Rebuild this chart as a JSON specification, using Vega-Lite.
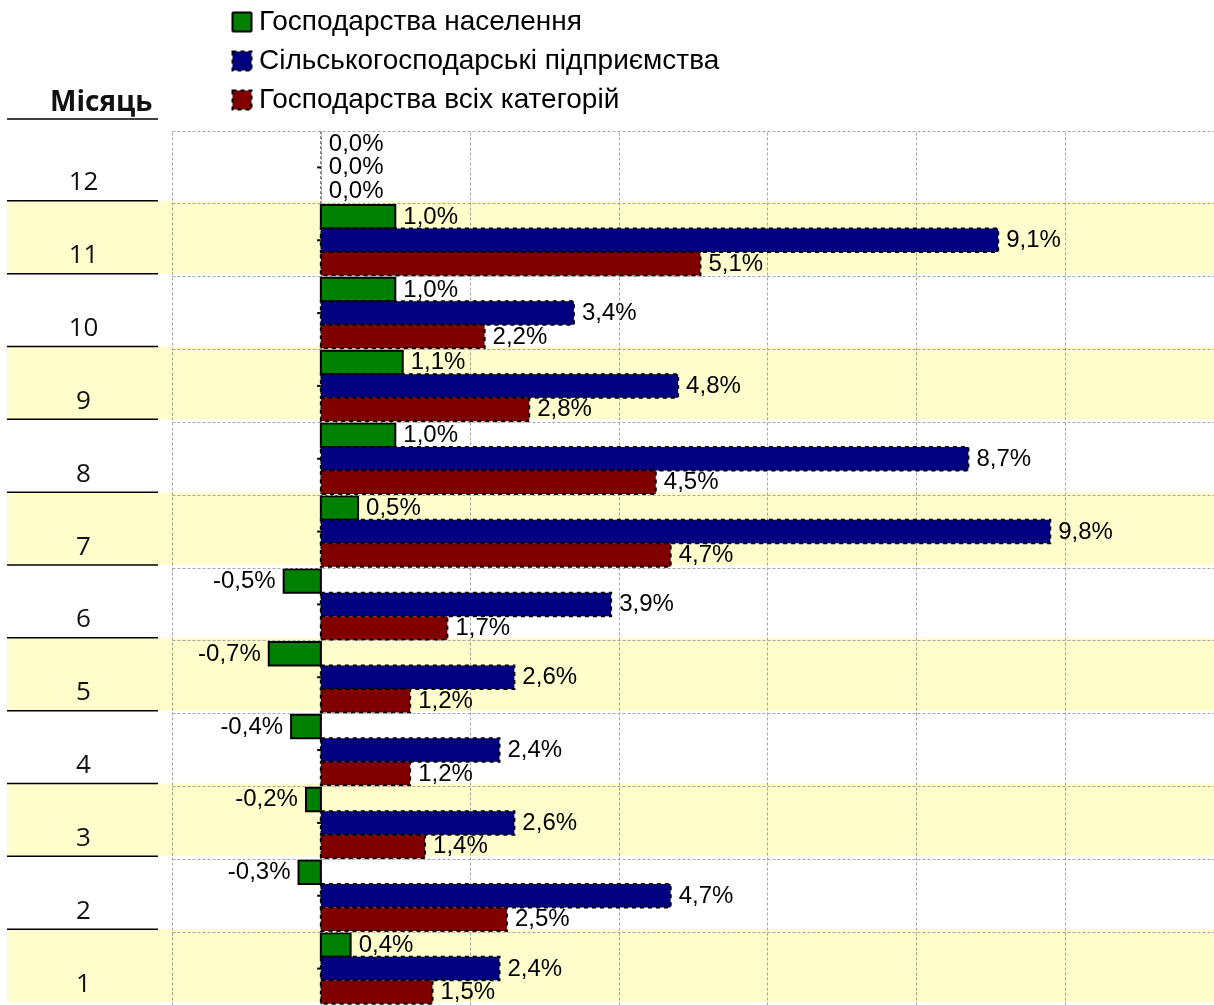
{
  "$schema": "https://vega.github.io/schema/vega-lite/v6.json",
  "width": 1042,
  "height": 874,
  "autosize": {"type": "none"},
  "padding": {"left": 172, "top": 131, "right": 0, "bottom": 0},
  "background": "white",
  "config": {
    "view": {"stroke": null},
    "locale": {"number": {"decimal": ",", "thousands": " ", "grouping": [3], "currency": ["", ""], "minus": "-"}}
  },
  "datasets": {
    "bars": [
      {"month": 12, "series": "Господарства населення", "v": 0.0},
      {"month": 12, "series": "Сільськогосподарські підприємства", "v": 0.0},
      {"month": 12, "series": "Господарства всіх категорій", "v": 0.0},
      {"month": 11, "series": "Господарства населення", "v": 0.010},
      {"month": 11, "series": "Сільськогосподарські підприємства", "v": 0.091},
      {"month": 11, "series": "Господарства всіх категорій", "v": 0.051},
      {"month": 10, "series": "Господарства населення", "v": 0.010},
      {"month": 10, "series": "Сільськогосподарські підприємства", "v": 0.034},
      {"month": 10, "series": "Господарства всіх категорій", "v": 0.022},
      {"month": 9, "series": "Господарства населення", "v": 0.011},
      {"month": 9, "series": "Сільськогосподарські підприємства", "v": 0.048},
      {"month": 9, "series": "Господарства всіх категорій", "v": 0.028},
      {"month": 8, "series": "Господарства населення", "v": 0.010},
      {"month": 8, "series": "Сільськогосподарські підприємства", "v": 0.087},
      {"month": 8, "series": "Господарства всіх категорій", "v": 0.045},
      {"month": 7, "series": "Господарства населення", "v": 0.005},
      {"month": 7, "series": "Сільськогосподарські підприємства", "v": 0.098},
      {"month": 7, "series": "Господарства всіх категорій", "v": 0.047},
      {"month": 6, "series": "Господарства населення", "v": -0.005},
      {"month": 6, "series": "Сільськогосподарські підприємства", "v": 0.039},
      {"month": 6, "series": "Господарства всіх категорій", "v": 0.017},
      {"month": 5, "series": "Господарства населення", "v": -0.007},
      {"month": 5, "series": "Сільськогосподарські підприємства", "v": 0.026},
      {"month": 5, "series": "Господарства всіх категорій", "v": 0.012},
      {"month": 4, "series": "Господарства населення", "v": -0.004},
      {"month": 4, "series": "Сільськогосподарські підприємства", "v": 0.024},
      {"month": 4, "series": "Господарства всіх категорій", "v": 0.012},
      {"month": 3, "series": "Господарства населення", "v": -0.002},
      {"month": 3, "series": "Сільськогосподарські підприємства", "v": 0.026},
      {"month": 3, "series": "Господарства всіх категорій", "v": 0.014},
      {"month": 2, "series": "Господарства населення", "v": -0.003},
      {"month": 2, "series": "Сільськогосподарські підприємства", "v": 0.047},
      {"month": 2, "series": "Господарства всіх категорій", "v": 0.025},
      {"month": 1, "series": "Господарства населення", "v": 0.004},
      {"month": 1, "series": "Сільськогосподарські підприємства", "v": 0.024},
      {"month": 1, "series": "Господарства всіх категорій", "v": 0.015}
    ],
    "rows": [
      {"month": 12}, {"month": 11}, {"month": 10}, {"month": 9}, {"month": 8}, {"month": 7},
      {"month": 6}, {"month": 5}, {"month": 4}, {"month": 3}, {"month": 2}, {"month": 1}
    ]
  },
  "layer": [
    {
      "data": {"name": "rows"},
      "transform": [{"filter": "datum.month % 2 == 1"}],
      "mark": {"type": "rect", "fill": "#fffdcc", "blend": "multiply", "yOffset": -3, "y2Offset": -3},
      "encoding": {
        "y": {"field": "month", "type": "ordinal", "sort": "descending"},
        "x": {"datum": -0.04217, "type": "quantitative"},
        "x2": {"datum": 0.12}
      }
    },
    {
      "data": {"name": "rows"},
      "transform": [{"filter": "datum.month != 12"}],
      "mark": {"type": "rule", "color": "#000000", "strokeWidth": 1.5, "yOffset": -3},
      "encoding": {
        "y": {"field": "month", "type": "ordinal", "sort": "descending", "bandPosition": 0},
        "x": {"datum": -0.04217, "type": "quantitative"},
        "x2": {"datum": -0.02188}
      }
    },
    {
      "data": {"name": "rows"},
      "transform": [{"filter": "datum.month == 12"}],
      "mark": {"type": "rule", "color": "#000000", "strokeWidth": 1.5, "yOffset": -12},
      "encoding": {
        "y": {"field": "month", "type": "ordinal", "sort": "descending", "bandPosition": 0},
        "x": {"datum": -0.04217, "type": "quantitative"},
        "x2": {"datum": -0.02188}
      }
    },
    {
      "data": {"values": [{}]},
      "mark": {"type": "rule", "color": "#404040", "strokeDash": [3, 2], "strokeWidth": 1},
      "encoding": {"x": {"datum": 0, "type": "quantitative"}}
    },
    {
      "data": {"name": "rows"},
      "mark": {"type": "rule", "color": "#000000", "strokeWidth": 2},
      "encoding": {
        "y": {"field": "month", "type": "ordinal", "sort": "descending"},
        "x": {"datum": -0.0005, "type": "quantitative"},
        "x2": {"datum": 0}
      }
    },
    {
      "data": {"name": "bars"},
      "transform": [{"filter": "datum.v != 0"}],
      "mark": {"type": "bar", "stroke": "#000000", "strokeWidth": 2},
      "encoding": {
        "y": {
          "field": "month", "type": "ordinal", "sort": "descending",
          "scale": {"paddingInner": 0, "paddingOuter": 0},
          "axis": {
            "bandPosition": 0, "grid": true, "gridDash": [3, 2], "gridColor": "#a6a6a6", "gridWidth": 1,
            "ticks": false, "domain": false,
            "labelAlign": "center", "labelBaseline": "alphabetic", "labelPadding": 89, "labelOffset": 23,
            "labelFont": "Open Sans", "labelFontSize": 26, "labelColor": "#111111", "labelOverlap": false, "labelFlush": false,
            "title": "Місяць", "titleAngle": 0, "titleAlign": "right", "titleBaseline": "alphabetic",
            "titleX": -20, "titleY": -21, "titleFont": "Open Sans", "titleFontSize": 28, "titleFontWeight": "bold", "titleColor": "#111111"
          }
        },
        "yOffset": {
          "field": "series", "type": "nominal",
          "sort": ["Господарства населення", "Сільськогосподарські підприємства", "Господарства всіх категорій"],
          "scale": {"paddingInner": 0, "paddingOuter": 0.05}
        },
        "x": {
          "field": "v", "type": "quantitative",
          "scale": {"domain": [-0.02, 0.12], "nice": false, "zero": false},
          "axis": {
            "labels": false, "ticks": false, "domain": false, "title": null,
            "grid": true, "gridDash": [3, 2], "gridColor": "#a6a6a6", "gridWidth": 1,
            "values": [-0.02, 0, 0.02, 0.04, 0.06, 0.08, 0.10]
          }
        },
        "color": {
          "field": "series", "type": "nominal",
          "scale": {
            "domain": ["Господарства населення", "Сільськогосподарські підприємства", "Господарства всіх категорій"],
            "range": ["#008000", "#000080", "#800000"]
          },
          "legend": {
            "orient": "none", "legendX": 56, "legendY": -123, "title": null, "padding": 0,
            "symbolType": "square", "symbolSize": 361, "symbolStrokeColor": "#000000", "symbolStrokeWidth": 2,
            "labelFont": "Liberation Sans", "labelFontSize": 28, "labelColor": "#000000", "labelLimit": 1000,
            "labelOffset": 3, "rowPadding": 11,
            "encode": {"symbols": {"update": {"stroke": {"value": "#000000"}, "strokeWidth": {"value": 2}}}}
          }
        },
        "strokeDash": {
          "field": "series", "type": "nominal",
          "scale": {
            "domain": ["Господарства населення", "Сільськогосподарські підприємства", "Господарства всіх категорій"],
            "range": [[1, 0], [4, 4], [4, 4]]
          },
          "legend": {
            "orient": "none", "legendX": 56, "legendY": -123, "title": null, "padding": 0,
            "symbolType": "square", "symbolSize": 361, "symbolStrokeColor": "#000000", "symbolStrokeWidth": 2,
            "labelFont": "Liberation Sans", "labelFontSize": 28, "labelColor": "#000000", "labelLimit": 1000,
            "labelOffset": 3, "rowPadding": 11,
            "encode": {"symbols": {"update": {"stroke": {"value": "#000000"}, "strokeWidth": {"value": 2}}}}
          }
        }
      }
    },
    {
      "data": {"name": "bars"},
      "transform": [{"filter": "datum.v >= 0"}],
      "mark": {"type": "text", "align": "left", "baseline": "middle", "dx": 8, "font": "Liberation Sans", "fontSize": 24, "color": "#000000"},
      "encoding": {
        "y": {"field": "month", "type": "ordinal", "sort": "descending"},
        "yOffset": {
          "field": "series", "type": "nominal",
          "sort": ["Господарства населення", "Сільськогосподарські підприємства", "Господарства всіх категорій"]
        },
        "x": {"field": "v", "type": "quantitative"},
        "text": {"field": "v", "type": "quantitative", "format": ".1%"}
      }
    },
    {
      "data": {"name": "bars"},
      "transform": [{"filter": "datum.v < 0"}],
      "mark": {"type": "text", "align": "right", "baseline": "middle", "dx": -8, "font": "Liberation Sans", "fontSize": 24, "color": "#000000"},
      "encoding": {
        "y": {"field": "month", "type": "ordinal", "sort": "descending"},
        "yOffset": {
          "field": "series", "type": "nominal",
          "sort": ["Господарства населення", "Сільськогосподарські підприємства", "Господарства всіх категорій"]
        },
        "x": {"field": "v", "type": "quantitative"},
        "text": {"field": "v", "type": "quantitative", "format": ".1%"}
      }
    }
  ]
}
